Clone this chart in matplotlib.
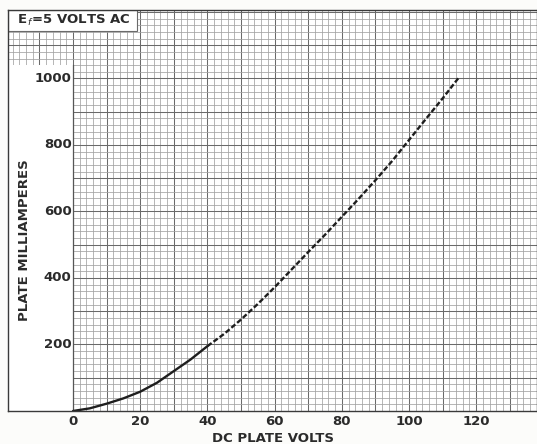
import numpy as np
import matplotlib.pyplot as plt
from matplotlib.patches import Rectangle

# ---- data ----
volts = [0, 5, 10, 15, 20, 25, 30, 35, 40, 45, 50, 55, 60, 65, 70, 75, 80,
         85, 90, 95, 100, 105, 110, 115]
plate_ma = [0, 8, 22, 38, 58, 85, 120, 155, 195, 232, 275, 322, 372, 425,
            478, 530, 584, 638, 694, 752, 815, 878, 940, 1005]
solid_until = 40
x_ticks = [0, 20, 40, 60, 80, 100, 120]
y_ticks = [200, 400, 600, 800, 1000]
title_text = r"E$_{\,f}$=5 VOLTS AC"
x_label = "DC PLATE VOLTS"
y_label = "PLATE MILLIAMPERES"

W, H = 537, 444
fig = plt.figure(figsize=(W / 100, H / 100), dpi=100)
fig.patch.set_facecolor('#fcfcfa')

# frame: x 8..537 px, y 10..411 px
ax = fig.add_axes([8 / W, (H - 411) / H, (537 - 8) / W, (411 - 10) / H])
x0, x1 = -19.35, 138.1
y0, y1 = 0, 1206
ax.set_xlim(x0, x1)
ax.set_ylim(y0, y1)
ax.set_facecolor('white')

ink = '#2b2b2b'
minor_c = '#a2a2a2'
major_c = '#6a6a6a'

# graph paper grid
for v in np.arange(-18, 139, 2):
    major = (v % 10 == 0)
    ax.axvline(v, color=major_c if major else minor_c,
               lw=0.75 if major else 0.55, zorder=1)
for m in np.arange(20, 1206, 20):
    major = (m % 100 == 0)
    ax.axhline(m, color=major_c if major else minor_c,
               lw=0.75 if major else 0.55, zorder=1)

# white label panel on the left and title box
ax.add_patch(Rectangle((x0, 0), 0 - x0, 1040, facecolor='white',
                       edgecolor='none', zorder=2))
ax.axvline(0, ymin=0, ymax=1040 / y1, color='#555555', lw=0.9, zorder=3)
ax.add_patch(Rectangle((x0, 1143), 19 - x0, y1 - 1143, facecolor='white',
                       edgecolor=major_c, lw=0.8, zorder=2))
ax.text((x0 + 19) / 2 + 0.3, 1175, title_text, ha='center', va='center',
        fontsize=9.5, fontweight='bold', color=ink, zorder=4)

# curve
v = np.array(volts)
i = np.array(plate_ma)
s = v <= solid_until
d = v >= solid_until
ax.plot(v[s], i[s], color='#1e1e1e', lw=1.7, zorder=5,
        solid_capstyle='round')
ax.plot(v[d], i[d], color='#1e1e1e', lw=1.7, zorder=5,
        linestyle=(0, (2.2, 1.0)))

# ticks
ax.set_xticks(x_ticks)
ax.set_xticklabels([str(t) for t in x_ticks], fontsize=9.5,
                   fontweight='bold', color=ink)
ax.tick_params(axis='x', length=0, pad=3)
ax.set_yticks([])
for t in y_ticks:
    ax.text(-0.4, t, str(t), ha='right', va='center', fontsize=9.5,
            fontweight='bold', color=ink, zorder=4)

for sp in ax.spines.values():
    sp.set_color('#3a3a3a')
    sp.set_linewidth(1.0)
    sp.set_zorder(6)

fig.text(273 / W, 1 - 438 / H, x_label, ha='center', va='center',
         fontsize=9.5, color=ink, fontweight='bold')
fig.text(25 / W, 1 - 240 / H, y_label, ha='center', va='center',
         rotation=90, fontsize=9.5, color=ink, fontweight='bold')

fig.savefig('out.png', dpi=100, facecolor=fig.get_facecolor())
